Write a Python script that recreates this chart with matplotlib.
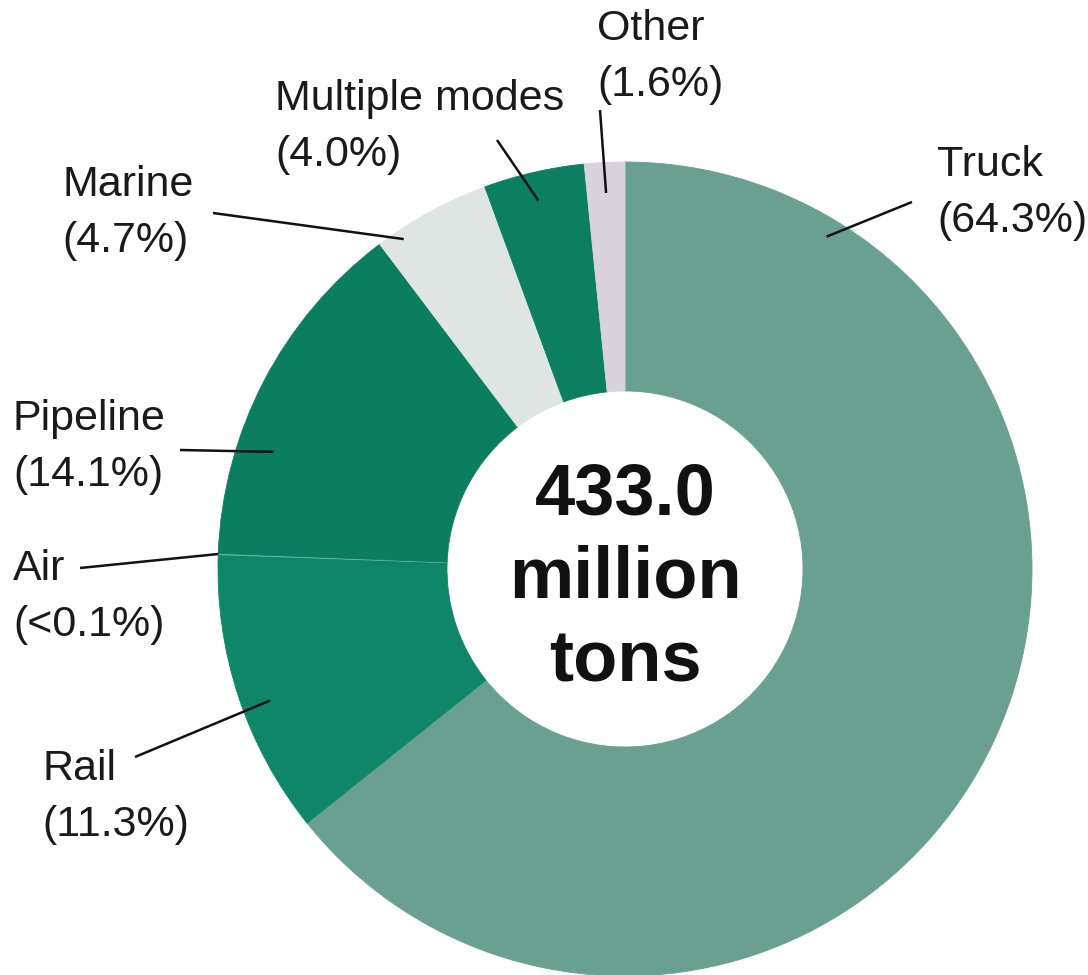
import numpy as np
import matplotlib.pyplot as plt

# Freight tonnage share by mode (percent)
modes = ["Truck", "Rail", "Air", "Pipeline", "Marine", "Multiple modes", "Other"]
shares = [64.3, 11.3, 0.05, 14.1, 4.7, 4.0, 1.6]
share_labels = ["64.3%", "11.3%", "<0.1%", "14.1%", "4.7%", "4.0%", "1.6%"]
total_text = "433.0\nmillion\ntons"

colors = ["#6aa090", "#0f866a", "#63b9a2", "#0b7e5f", "#dee5e2", "#0b7f60", "#d8d2dc"]

# layout, in pixels of the 1088x975 picture
W, H = 1088, 975
CX, CY, R_OUT, R_IN = 625, 569, 407, 178


def to_data(px, py):
    return (px - CX) / R_OUT, (CY - py) / R_OUT


# label text anchor (left, centre of block), where the leader hits the wedge
# (fraction along the wedge's sweep, fraction of outer radius), leader start
label_pos = {
    "Truck": ((937, 193), (0.135, 0.955), (912, 202)),
    "Rail": ((42, 797), (0.45, 0.93), (135, 757)),
    "Air": ((13, 597), (0.5, 1.0), (80, 568)),
    "Pipeline": ((13, 447), (0.32, 0.91), (180, 450)),
    "Marine": ((62, 213), (0.19, 0.976), (213, 213)),
    "Multiple modes": ((275, 127), (0.48, 0.93), (497, 140)),
    "Other": ((597, 57), (0.5, 0.925), (600, 110)),
}

plt.rcParams["font.family"] = ["Liberation Sans", "DejaVu Sans"]

fig = plt.figure(figsize=(W / 100, H / 100), dpi=100)
ax = fig.add_axes([0, 0, 1, 1])

wedges, _ = ax.pie(shares, colors=colors, startangle=90, counterclock=False,
                   radius=1.0, wedgeprops=dict(width=1 - R_IN / R_OUT, linewidth=0))
for w, c in zip(wedges, colors):
    w.set_edgecolor(c)
    w.set_linewidth(0.6)

for w, name, lab in zip(wedges, modes, share_labels):
    (tx, ty), (frac, rfrac), (lx, ly) = label_pos[name]
    # wedge sweeps clockwise from theta2 down to theta1
    ang = np.deg2rad(w.theta2 - frac * (w.theta2 - w.theta1))
    tip = (rfrac * np.cos(ang), rfrac * np.sin(ang))
    ax.plot([to_data(lx, ly)[0], tip[0]], [to_data(lx, ly)[1], tip[1]],
            color="#111111", lw=1.8, solid_capstyle="butt")
    x, y = to_data(tx, ty)
    ax.text(x, y, f"{name}\n({lab})", ha="left", va="center", fontsize=31,
            color="#1a1a1a", linespacing=1.5)

ax.text(0, to_data(0, 579)[1], total_text, ha="center", va="center",
        fontsize=52, fontweight="bold", color="#111111", linespacing=1.3)

ax.set_xlim(to_data(0, 0)[0], to_data(W, 0)[0])
ax.set_ylim(to_data(0, H)[1], to_data(0, 0)[1])
ax.set_aspect("equal")
ax.axis("off")

fig.savefig("out.png", dpi=100)
